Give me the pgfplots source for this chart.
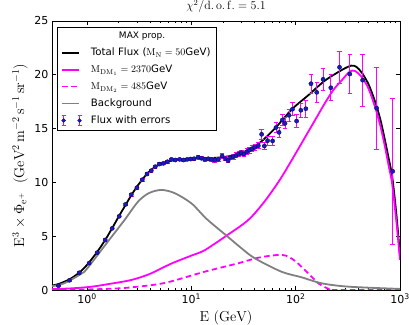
\documentclass[border=0pt]{standalone}
\usepackage[no-math]{fontspec}
\setmainfont{DejaVu Sans}
\usepackage{pgfplots}
\usepackage{pgfplotstable}
\pgfplotsset{compat=1.18}
\definecolor{mblue}{RGB}{25,25,200}
\definecolor{medge}{RGB}{10,10,80}
\definecolor{mag}{RGB}{255,0,255}
\definecolor{gry}{RGB}{128,128,128}

\pgfplotstableread{
E F err
0.53 0.40 0.05
0.676 0.90 0.06
0.84 1.60 0.08
1.045 2.50 0.08
1.25 3.47 0.10
1.49 4.65 0.10
1.74 5.73 0.10
2.03 6.85 0.12
2.34 7.96 0.12
2.65 8.86 0.12
3.00 9.50 0.12
3.38 10.25 0.12
3.75 10.78 0.12
4.12 11.09 0.12
4.50 11.46 0.12
4.92 11.70 0.12
5.38 11.77 0.12
5.88 11.92 0.12
6.43 12.14 0.12
7.0 12.08 0.12
7.7 12.14 0.12
8.4 12.08 0.13
9.1 12.14 0.13
9.85 12.17 0.13
10.6 12.20 0.14
11.6 12.33 0.14
12.5 12.24 0.15
13.4 12.14 0.15
14.5 12.20 0.16
15.6 12.14 0.17
16.7 12.08 0.18
18.1 12.14 0.18
19.7 12.45 0.20
21.2 12.20 0.20
22.5 12.02 0.20
23.8 12.33 0.21
25.3 12.39 0.22
26.8 12.52 0.22
28.5 12.64 0.23
30.1 12.76 0.24
31.9 12.64 0.25
34.0 12.85 0.26
36.0 13.00 0.27
38.2 13.13 0.28
40.6 13.26 0.30
43.8 13.41 0.30
47.1 14.47 0.45
50.0 13.38 0.35
53.7 13.88 0.40
60.0 13.85 0.40
64.7 15.10 0.45
69.2 14.65 0.45
74.5 15.80 0.50
78.9 15.49 0.50
86.2 16.24 0.55
93.0 16.80 0.60
102 15.70 0.60
112 16.70 0.65
125 16.85 0.80
140 19.17 0.90
159 18.37 0.90
183 19.58 1.00
217 18.80 1.20
263 20.70 1.50
330 20.07 1.80
438 19.50 2.40
597 16.90 3.80
851 11.03 6.80
}\fluxdata

\pgfplotstableread{
E F
0.46 0.42
0.53 0.55
0.68 1.00
0.84 1.62
1.0 2.35
1.25 3.55
1.5 4.70
1.75 5.80
2.0 6.80
2.35 7.95
2.65 8.80
3.0 9.60
3.4 10.30
3.75 10.80
4.1 11.15
4.5 11.45
5.0 11.70
6.0 11.95
7.0 12.10
8.0 12.15
10 12.20
15 12.25
20 12.35
25 12.50
30 12.70
44 13.60
63 15.00
92 16.80
132 18.10
190 19.45
277 20.45
340 20.85
380 20.75
430 20.20
500 19.10
577 17.50
650 15.80
718 13.90
780 12.20
840 10.60
920 7.20
1000 3.20
}\totaldata

\pgfplotstableread{
E F
0.46 0.08
0.7 0.15
1.09 0.30
1.6 0.55
2.65 0.93
4.0 1.50
6.4 2.45
10 3.20
13.4 3.70
21.7 5.05
35 6.50
50 8.20
70 10.20
92 12.10
118 13.90
160 16.10
190 17.35
230 18.60
277 19.50
330 20.30
370 20.35
430 19.80
500 18.70
577 17.00
650 15.20
718 13.30
780 11.50
840 9.90
920 6.50
1000 2.80
}\dmonedata

\pgfplotstableread{
E F
0.46 0.02
1.0 0.05
2.0 0.15
3.0 0.30
4.5 0.50
6.4 0.80
13.4 1.70
28 2.48
43.7 3.00
66 3.25
80 3.20
98.5 2.70
132 1.55
165 0.62
207 0.10
235 0.00
1000 0.00
}\dmtwodata

\pgfplotstableread{
E F
0.46 0.35
0.6 0.62
0.875 1.50
1.0 2.00
1.58 4.50
2.28 6.50
3.07 8.20
3.9 9.00
5.15 9.30
6.9 9.00
10 8.05
14 6.60
21.7 5.05
30 3.90
40.6 2.94
73 1.70
114 1.18
178 0.62
320 0.31
1000 0.10
}\bkgdata

\begin{document}
\begin{tikzpicture}
\begin{axis}[
  xmode=log, scale only axis, width=348pt, height=269pt,
  xmin=0.46, xmax=1000, ymin=0, ymax=25,
  xtick={1,10,100,1000},
  xticklabels={10\textsuperscript{0},10\textsuperscript{1},10\textsuperscript{2},10\textsuperscript{3}},
  ytick={0,5,10,15,20,25},
  /pgf/number format/assume math mode=true,
  tick align=inside, major tick length=4pt, minor tick length=2pt,
  tick style={black, line width=0.6pt},
  axis line style={line width=0.8pt},
  tick label style={font=\fontsize{11}{13}\selectfont},
  xlabel={$\mathrm{E\ (GeV)}$},
  ylabel={$\mathrm{E^3\times\Phi_{e^+}\ \ (GeV^2\,m^{-2}\,s^{-1}\,sr^{-1})}$},
  label style={font=\fontsize{14}{16}\selectfont},
  title={$\chi^2/\mathrm{d.\,o.\,f.}=5.1$},
  title style={font=\fontsize{12}{14}\selectfont, at={(0.5,1)}, anchor=south, inner sep=1pt, yshift=1pt},
  legend style={at={(0.014,0.978)}, anchor=north west, draw=black,
    line width=0.6pt, font=\fontsize{10.2}{12}\selectfont,
    row sep=3.8pt, column sep=7pt, inner xsep=4pt, inner ysep=3pt},
  legend cell align=left,
]
\addlegendimage{empty legend}
\addplot[black, line width=1.8pt, smooth] table[x=E,y=F]{\totaldata};
\addplot[mag, line width=1.8pt, smooth] table[x=E,y=F]{\dmonedata};
\addplot[mag, line width=1.8pt, dash pattern=on 5.5pt off 3.5pt, smooth] table[x=E,y=F]{\dmtwodata};
\addplot[gry, line width=1.8pt, smooth] table[x=E,y=F]{\bkgdata};
\addplot[only marks, mark=*, mark size=2.1pt, mark options={fill=mblue, draw=medge, line width=0.4pt},
  legend image code/.code={
    \draw[mag, line width=0.9pt] (0.05cm,-5pt) -- (0.05cm,5pt);
    \draw[mag, line width=0.9pt] (0.61cm,-5pt) -- (0.61cm,5pt);
    \draw[mag, line width=0.9pt] (-0.02cm,-5pt) -- (0.12cm,-5pt);
    \draw[mag, line width=0.9pt] (-0.02cm,5pt) -- (0.12cm,5pt);
    \draw[mag, line width=0.9pt] (0.54cm,-5pt) -- (0.68cm,-5pt);
    \draw[mag, line width=0.9pt] (0.54cm,5pt) -- (0.68cm,5pt);
    \draw[medge, fill=mblue, line width=0.4pt] (0.05cm,0cm) circle (1.9pt);
    \draw[medge, fill=mblue, line width=0.4pt] (0.61cm,0cm) circle (1.9pt);
  },
  error bars/.cd, y dir=both, y explicit,
  error bar style={mag, line width=0.9pt},
  error mark options={rotate=90, mark size=2.2pt, mag, line width=0.9pt}]
  table[x=E, y=F, y error=err]{\fluxdata};
\legend{\hspace*{28pt}\fontsize{9}{11}\selectfont MAX prop.,
  Total Flux ($\mathrm{M_N=50}$GeV),
  $\mathrm{M_{DM_1}=2370}$GeV,
  $\mathrm{M_{DM_2}=485}$GeV,
  Background,
  Flux with errors}
\end{axis}
\pgfresetboundingbox
\path[use as bounding box] ([xshift=-52pt,yshift=-35pt]current axis.south west) rectangle ([xshift=9pt,yshift=21pt]current axis.north east);
\end{tikzpicture}
\end{document}
